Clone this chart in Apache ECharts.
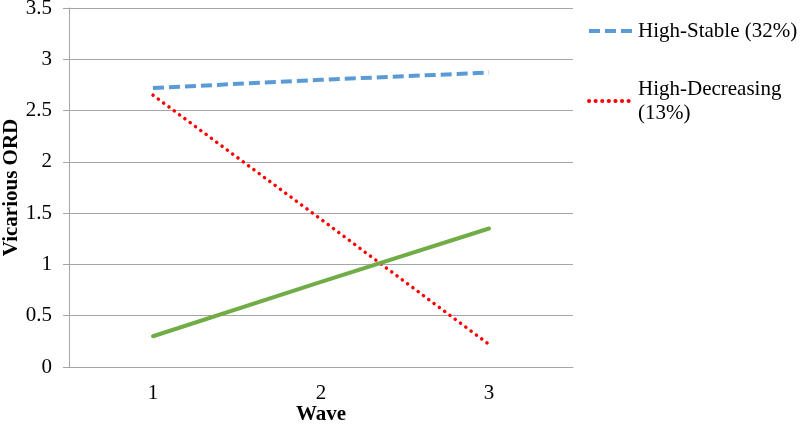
<!DOCTYPE html>
<html><head><meta charset="utf-8">
<script src="https://cdn.jsdelivr.net/npm/echarts@6/dist/echarts.min.js"></script>
<style>html,body{margin:0;padding:0;background:#fff}#c{width:800px;height:428px}</style>
</head><body><div id="c"></div>
<script>
const categories = ['1', '2', '3'];
const highStable = [2.72, 2.80, 2.87];
const highDecreasing = [2.65, 1.44, 0.22];
const lowIncreasing = [0.30, 0.83, 1.35];
const seriesNames = ['High-Stable (32%)', 'High-Decreasing\n(13%)', 'Low-Increasing'];

const font = 'Liberation Serif';
const chart = echarts.init(document.getElementById('c'));
chart.setOption({
  animation: false,
  grid: { left: 69, right: 227, top: 8, bottom: 61, containLabel: false, outerBoundsMode: 'none' },
  legend: {
    data: [seriesNames[0], seriesNames[1]],
    orient: 'vertical',
    left: 582, top: 14,
    itemWidth: 44, itemHeight: 14, itemGap: 34,
    itemStyle: { opacity: 0 },
    lineStyle: { width: 4 },
    textStyle: { fontFamily: font, fontSize: 21, color: '#000', lineHeight: 24 }
  },
  xAxis: {
    type: 'category', data: categories, boundaryGap: true,
    name: 'Wave', nameLocation: 'middle', nameGap: 37, nameMoveOverlap: false,
    nameTextStyle: { fontFamily: font, fontSize: 21, fontWeight: 'bold', color: '#000' },
    axisLine: { lineStyle: { color: '#a6a6a6', width: 1 } },
    axisTick: { show: false },
    axisLabel: { fontFamily: font, fontSize: 21, color: '#000', margin: 16 }
  },
  yAxis: {
    type: 'value', min: 0, max: 3.5, interval: 0.5,
    name: 'Vicarious ORD', nameLocation: 'middle', nameGap: 47, nameMoveOverlap: false,
    nameTextStyle: { fontFamily: font, fontSize: 21, fontWeight: 'bold', color: '#000' },
    axisLine: { show: true, lineStyle: { color: '#a6a6a6', width: 1 } },
    axisTick: { show: true, length: 6, lineStyle: { color: '#a6a6a6' } },
    axisLabel: { fontFamily: font, fontSize: 21, color: '#000', margin: 17 },
    splitLine: { lineStyle: { color: '#a6a6a6', width: 1 } }
  },
  series: [
    { name: seriesNames[0], type: 'line', data: highStable, symbol: 'none',
      lineStyle: { color: '#5b9bd5', width: 4, type: [11, 5] }, itemStyle: { color: '#5b9bd5' } },
    { name: seriesNames[1], type: 'line', data: highDecreasing, symbol: 'none',
      lineStyle: { color: '#ff0000', width: 3.5, type: [0.1, 6.5], cap: 'round' }, itemStyle: { color: '#ff0000' } },
    { name: seriesNames[2], type: 'line', data: lowIncreasing, symbol: 'none',
      lineStyle: { color: '#70ad47', width: 4, cap: 'round' }, itemStyle: { color: '#70ad47' } }
  ]
});
</script></body></html>
